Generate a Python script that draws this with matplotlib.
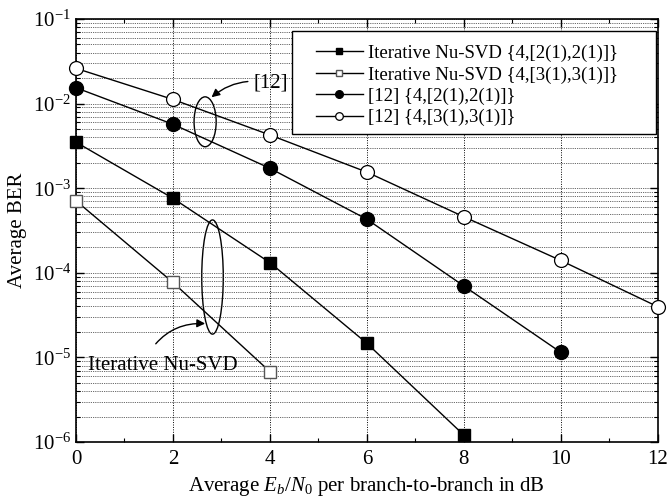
import matplotlib
matplotlib.use("Agg")
import matplotlib.pyplot as plt
from matplotlib.patches import Ellipse, Rectangle
from matplotlib.ticker import MultipleLocator, LogLocator, NullFormatter

plt.rcParams['font.family'] = ['Liberation Serif', 'DejaVu Serif']
plt.rcParams['mathtext.fontset'] = 'custom'
plt.rcParams['mathtext.rm'] = 'Liberation Serif'
plt.rcParams['mathtext.it'] = 'Liberation Serif:italic'

# Data
snr_nusvd_22 = [0, 2, 4, 6, 8]
ber_nusvd_22 = [3.5e-3, 7.6e-4, 1.32e-4, 1.47e-5, 1.21e-6]
snr_nusvd_33 = [0, 2, 4]
ber_nusvd_33 = [7.1e-4, 7.7e-5, 6.8e-6]
snr_ref_22 = [0, 2, 4, 6, 8, 10]
ber_ref_22 = [1.54e-2, 5.7e-3, 1.72e-3, 4.3e-4, 7.0e-5, 1.15e-5]
snr_ref_33 = [0, 2, 4, 6, 8, 10, 12]
ber_ref_33 = [2.61e-2, 1.12e-2, 4.26e-3, 1.55e-3, 4.6e-4, 1.4e-4, 3.98e-5]

labels = ["Iterative Nu-SVD {4,[2(1),2(1)]}",
          "Iterative Nu-SVD {4,[3(1),3(1)]}",
          "[12] {4,[2(1),2(1)]}",
          "[12] {4,[3(1),3(1)]}"]

fig = plt.figure(figsize=(6.69, 5.04), dpi=100)
ax = fig.add_axes([0.1136, 0.123, 0.8694, 0.8393])

lw = 1.0
ax.plot(snr_nusvd_22, ber_nusvd_22, '-', color='black', lw=lw, marker='s', ms=9,
        mfc='black', mec='black', label=labels[0], clip_on=False, zorder=3)
ax.plot(snr_nusvd_33, ber_nusvd_33, '-', color='black', lw=lw, marker='s', ms=9,
        mfc='white', mec='#555555', mew=1.0, label=labels[1], clip_on=False, zorder=3)
ax.plot(snr_ref_22, ber_ref_22, '-', color='black', lw=lw, marker='o', ms=10,
        mfc='black', mec='black', label=labels[2], clip_on=False, zorder=3)
ax.plot(snr_ref_33, ber_ref_33, '-', color='black', lw=lw, marker='o', ms=10,
        mfc='white', mec='black', mew=0.9, label=labels[3], clip_on=False, zorder=3)

ax.set_yscale('log')
ax.set_xlim(0, 12)
ax.set_ylim(1e-6, 1e-1)
ax.xaxis.set_major_locator(MultipleLocator(2))
ax.xaxis.set_minor_locator(MultipleLocator(1))
ax.yaxis.set_major_locator(LogLocator(base=10, numticks=10))
ax.yaxis.set_minor_locator(LogLocator(base=10, subs=range(2, 10), numticks=20))
ax.yaxis.set_minor_formatter(NullFormatter())

ax.tick_params(which='both', direction='in', top=True, right=True, labelsize=15)
ax.tick_params(which='major', length=6, width=1)
ax.tick_params(which='minor', length=3, width=0.8)
ax.tick_params(axis='x', pad=6)

ax.grid(True, axis='x', which='major', linestyle=(0, (1, 1.5)), color='black', lw=0.7)
ax.grid(True, axis='y', which='both', linestyle=(0, (1, 1.2)), color='#333333', lw=0.6)
for s in ax.spines.values():
    s.set_linewidth(1.2)

ax.set_ylabel('Average BER', fontsize=15, labelpad=4)
ax.set_xlabel(r'Average $E_b/N_\mathit{0}$ per branch-to-branch in dB', fontsize=15, labelpad=4)

# Legend frame drawn separately to match the wide box
frame = Rectangle((0.371, 0.728), 0.626, 0.244, transform=ax.transAxes,
                  facecolor='white', edgecolor='black', lw=1.0, zorder=4)
ax.add_patch(frame)
leg = ax.legend(loc='upper left', bbox_to_anchor=(0.4126, 0.939), borderaxespad=0,
                fontsize=13.5, markerscale=0.55, handlelength=2.5, frameon=False,
                labelspacing=0.22, borderpad=0, handletextpad=0.3)
leg.set_zorder(5)

# Annotations
e1 = Ellipse((0.222, 0.757), 0.038, 0.118, transform=ax.transAxes, fill=False,
             edgecolor='black', lw=1.0)
ax.add_patch(e1)
e2 = Ellipse((0.2347, 0.390), 0.037, 0.27, transform=ax.transAxes, fill=False,
             edgecolor='black', lw=1.0)
ax.add_patch(e2)

ax.annotate('[12]', xy=(0.233, 0.815), xycoords='axes fraction',
            xytext=(0.305, 0.848), textcoords='axes fraction', fontsize=15,
            ha='left', va='center',
            arrowprops=dict(arrowstyle='-|>', color='black', lw=1.0,
                            connectionstyle='arc3,rad=0.25', shrinkA=2, shrinkB=0,
                            mutation_scale=12))
ax.annotate('Iterative Nu-SVD', xy=(0.222, 0.28), xycoords='axes fraction',
            xytext=(0.02, 0.182), textcoords='axes fraction', fontsize=15,
            ha='left', va='center',
            arrowprops=dict(arrowstyle='-|>', color='black', lw=1.0,
                            connectionstyle='arc3,rad=-0.3', shrinkA=8, shrinkB=0,
                            relpos=(0.4, 1.0), mutation_scale=12))

fig.savefig('out.png', dpi=100)
